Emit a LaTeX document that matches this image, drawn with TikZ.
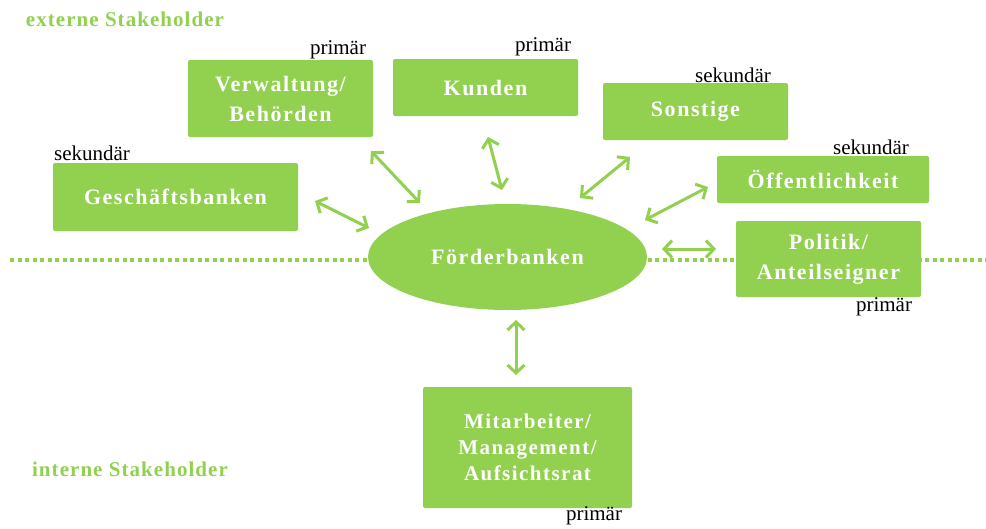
\documentclass[tikz,border=0pt]{standalone}
\usepackage{fontspec}
\setmainfont{Liberation Serif}
\newfontfamily\boxfont[LetterSpace=7]{Liberation Serif}
\newfontfamily\legendfont[LetterSpace=5]{Liberation Serif}
\usetikzlibrary{arrows.meta,shapes.geometric}
\definecolor{leaf}{HTML}{92D050}
\tikzset{
  holder/.style={draw=none, fill=leaf, rounded corners=2pt, inner sep=0pt,
    text=white, align=center, font=\boxfont\bfseries\fontsize{22}{30}\selectfont},
  hub/.style={ellipse, fill=leaf, inner sep=0pt, text=white,
    font=\boxfont\bfseries\fontsize{22}{30}\selectfont},
  rank/.style={inner sep=0pt, text=black, font=\fontsize{21}{24}\selectfont},
  group/.style={inner sep=0pt, text=leaf, font=\legendfont\bfseries\fontsize{21}{24}\selectfont},
  link/.style={draw=leaf, line width=3pt,
    {Straight Barb[length=8pt,width=17pt]}-{Straight Barb[length=8pt,width=17pt]}},
  border/.style={draw=leaf, line width=4pt, dash pattern=on 4pt off 3.5pt}
}
\begin{document}
\begin{tikzpicture}[x=1pt,y=-1pt]
\useasboundingbox (0,0) rectangle (986,528);

% boundary between external and internal stakeholders
\coordinate (lineL) at (10,260);
\coordinate (lineR) at (986,260);
\draw[border] (lineL) -- (lineR);

% stakeholder boxes
\node[holder, minimum width=185pt, minimum height=77pt] (verw) at (280.5,98.5) {Verwaltung/\\Behörden};
\node[holder, minimum width=185pt, minimum height=57pt] (kunden) at (485.5,87.5) {Kunden};
\node[holder, minimum width=185pt, minimum height=57pt] (sonst) at (695.5,111.5) {Sonstige};
\node[holder, minimum width=245pt, minimum height=68pt] (gesch) at (175.5,197) {Geschäftsbanken};
\node[holder, minimum width=212pt, minimum height=47pt] (oeff) at (823,179.5) {Öffentlichkeit};
\node[holder, minimum width=185pt, minimum height=76pt] (polit) at (828.5,259) {Politik/\\Anteilseigner};
\node[holder, minimum width=209pt, minimum height=121pt,
      font=\boxfont\bfseries\fontsize{21}{26}\selectfont] (mitarb) at (527.5,447.5) {Mitarbeiter/\\Management/\\Aufsichtsrat};

% central institution
\node[hub, minimum width=279pt, minimum height=106pt] (foerder) at (507.5,257) {Förderbanken};

% ranking labels
\node[rank] (rVerw) at (338,50) {primär};
\node[rank] (rKunden) at (543,47) {primär};
\node[rank] (rSonst) at (733,75) {sekundär};
\node[rank] (rGesch) at (92,153) {sekundär};
\node[rank] (rOeff) at (871,147) {sekundär};
\node[rank] (rPolit) at (884,307) {primär};
\node[rank] (rMitarb) at (594,516) {primär};

% group labels
\node[group] (ext) at (125,19) {externe Stakeholder};
\node[group] (int) at (130,469) {interne Stakeholder};

% relation arrows
\coordinate (vA) at (371,151);  \coordinate (vB) at (420,203);
\coordinate (gA) at (315,201);  \coordinate (gB) at (369,228);
\coordinate (kA) at (488,137);  \coordinate (kB) at (502,190);
\coordinate (sA) at (630,157);  \coordinate (sB) at (580,198);
\coordinate (oA) at (708,187);  \coordinate (oB) at (645,220);
\coordinate (pA) at (662,249);  \coordinate (pB) at (716,249);
\coordinate (mA) at (516,320);  \coordinate (mB) at (516,375);
\draw[link] (vA) -- (vB);
\draw[link] (gA) -- (gB);
\draw[link] (kA) -- (kB);
\draw[link] (sA) -- (sB);
\draw[link] (oA) -- (oB);
\draw[link] (pA) -- (pB);
\draw[link] (mA) -- (mB);
\end{tikzpicture}
\end{document}
